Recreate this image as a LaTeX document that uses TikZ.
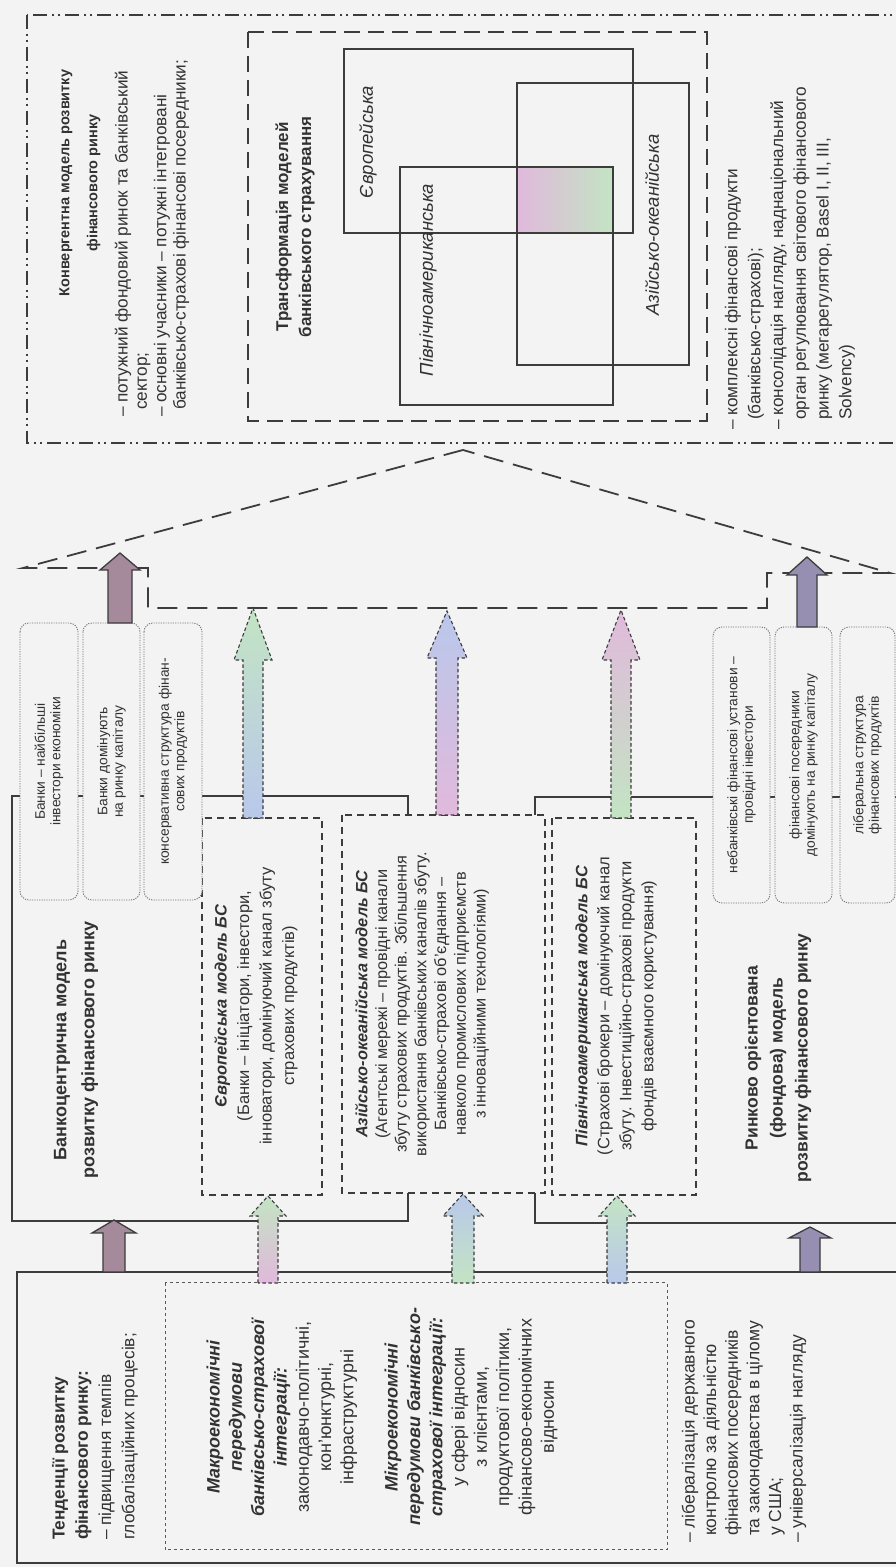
\documentclass[tikz,border=0pt]{standalone}
\usepackage{fontspec}
\setmainfont{Liberation Sans}
\usetikzlibrary{calc}

\definecolor{bgcol}{RGB}{243,243,243}
\definecolor{inkcol}{RGB}{50,50,50}
\definecolor{linecol}{RGB}{60,60,60}
\definecolor{mauve}{RGB}{165,138,155}
\definecolor{lav}{RGB}{150,143,178}
\definecolor{pgreen}{RGB}{195,228,195}
\definecolor{ppink}{RGB}{225,185,220}
\definecolor{pblue}{RGB}{185,200,235}

\newcommand{\bi}[1]{\textbf{\textit{#1}}}
% block arrow from tail #2 to tip #3: body half #4, head half #5, head length #6
\newcommand{\fatarrow}[6][]{%
  \path[#1] ($(#2)+(0,#4)$) -- ($(#3)+(-#6,#4)$) -- ($(#3)+(-#6,#5)$) -- (#3)
    -- ($(#3)+(-#6,-#5)$) -- ($(#3)+(-#6,-#4)$) -- ($(#2)+(0,-#4)$) -- cycle;}

\begin{document}
\begin{tikzpicture}[x=1pt,y=1pt,
    base/.style={inner sep=0pt, outer sep=0pt, text=inkcol},
    solidbox/.style={base, draw=linecol, line width=1.5pt},
    thinbox/.style={base, draw=linecol, line width=1.1pt},
    dashbox/.style={base, draw=linecol, line width=1.3pt, dash pattern=on 7pt off 5pt, fill=bgcol},
    longdash/.style={base, draw=linecol, line width=1.6pt, dash pattern=on 16pt off 8pt},
    dashdotbox/.style={base, draw=linecol, line width=1.6pt,
      dash pattern=on 14pt off 5pt on 2pt off 4pt on 2pt off 5pt},
    dotbox/.style={base, draw=linecol!85, line width=1pt, dash pattern=on 3pt off 3pt},
    roundbox/.style={base, draw=linecol!70, line width=0.9pt, dash pattern=on 1.2pt off 1.2pt,
      rounded corners=9pt, fill=bgcol, align=center, font=\fontsize{13.8}{15.5}\selectfont},
    body/.style={base, align=left, font=\fontsize{17.3}{20}\selectfont},
    mid/.style={base, align=center, font=\fontsize{16.5}{20}\selectfont},
    ttl/.style={base, align=center, font=\fontsize{16}{25}\selectfont\bfseries},
    lbl/.style={base, font=\fontsize{18.5}{20}\selectfont\itshape},
    solidarr/.style={draw=linecol, line width=1.3pt, fill=#1},
    dasharr/.style={draw=linecol, line width=1.1pt, dash pattern=on 3.5pt off 2.5pt},
    roof/.style={draw=linecol, line width=1.8pt, dash pattern=on 20pt off 10pt}]
\begin{scope}[rotate=90, transform shape]
\useasboundingbox (0,-896) rectangle (1567,0);
\fill[bgcol] (0,-896) rectangle (1567,0);

% tendencies and preconditions
\node[solidbox, anchor=south west, minimum width=291pt, minimum height=888pt] (tend) at (4,-905) {};
\node[dotbox, anchor=south west, minimum width=267pt, minimum height=502pt] (pre) at (17,-667) {};
\node[body, anchor=west, font=\fontsize{17.3}{23.3}\selectfont] (tendT) at (27,-95)
  {\textbf{Тенденції розвитку}\\\textbf{фінансового ринку:}\\– підвищення темпів\\глобалізаційних процесів;};
\node[mid, font=\fontsize{18}{22.3}\selectfont] (preT) at (150,-382)
  {\bi{Макроекономічні}\\\bi{передумови}\\\bi{банківсько-страхової}\\\bi{інтеграції:}\\
   законодавчо-політичні,\\кон’юнктурні,\\інфраструктурні\\[22pt]
   \bi{Мікроекономічні}\\\bi{передумови банківсько-}\\\bi{страхової інтеграції:}\\
   у сфері відносин\\з клієнтами,\\продуктової політики,\\фінансово-економічних\\відносин};
\node[body, anchor=west, font=\fontsize{17.5}{21.6}\selectfont] (tendR) at (24,-744)
  {– лібералізація державного\\\hspace*{7pt}контролю за діяльністю\\\hspace*{7pt}фінансових посередників\\
   \hspace*{7pt}та законодавства в цілому\\\hspace*{7pt}у США;\\– універсалізація нагляду};

% models of the financial market
\node[solidbox, anchor=south west, minimum width=425pt, minimum height=396pt] (bank) at (346,-408) {};
\node[solidbox, anchor=south west, minimum width=426pt, minimum height=370pt] (market) at (344,-905) {};
\node[ttl, font=\fontsize{18}{28}\selectfont\bfseries] (bankT) at (517,-76)
  {Банкоцентрична модель\\розвитку фінансового ринку};
\node[ttl, font=\fontsize{17.5}{25}\selectfont\bfseries] (marketT) at (509,-778)
  {Ринково орієнтована\\(фондова) модель\\розвитку фінансового ринку};

\node[dashbox, anchor=south west, minimum width=377pt, minimum height=120pt] (euro) at (372,-322) {};
\node[dashbox, anchor=south west, minimum width=378pt, minimum height=203pt] (asia) at (374,-545) {};
\node[dashbox, anchor=south west, minimum width=377pt, minimum height=144pt] (namer) at (372,-696) {};
\node[mid, font=\fontsize{16.5}{22.5}\selectfont] (euroT) at (561,-256)
  {\bi{Європейська модель БС}\\(Банки – ініціатори, інвестори,\\інноватори, домінуючий канал збуту\\страхових продуктів)};
\node[mid, font=\fontsize{16.3}{19.7}\selectfont] (asiaT) at (563,-422)
  {\bi{Азійсько-океанійська модель БС}\\(Агентські мережі – провідні канали\\збуту страхових продуктів. Збільшення\\
   використання банківських каналів збуту.\\Банківсько-страхові об’єднання –\\навколо промислових підприємств\\з інноваційними технологіями)};
\node[mid, font=\fontsize{16.5}{22}\selectfont] (namerT) at (561,-616)
  {\bi{Північноамериканська модель БС}\\(Страхові брокери – домінуючий канал\\збуту. Інвестиційно-страхові продукти\\фондів взаємного користування)};

% features of the two market models
\node[roundbox, anchor=south west, minimum width=277pt, minimum height=58pt] (lb1) at (667,-78) {Банки – найбільші\\інвестори економіки};
\node[roundbox, anchor=south west, minimum width=277pt, minimum height=57pt] (lb2) at (667,-140) {Банки домінують\\на ринку капіталу};
\node[roundbox, anchor=south west, minimum width=277pt, minimum height=58pt] (lb3) at (667,-202) {консервативна структура фінан-\\сових продуктів};
\node[roundbox, anchor=south west, minimum width=276pt, minimum height=57pt] (rb1) at (664,-770) {небанківські фінансові установи –\\провідні інвестори};
\node[roundbox, anchor=south west, minimum width=276pt, minimum height=57pt] (rb2) at (664,-832) {фінансові посередники\\домінують на ринку капіталу};
\node[roundbox, anchor=south west, minimum width=276pt, minimum height=55pt] (rb3) at (664,-895) {ліберальна структура\\фінансових продуктів};

% convergence
\draw[roof] (1117,-463) -- (999,-23) -- (999,-148) -- (959,-148) -- (959,-767)
  -- (994,-767) -- (994,-890) -- cycle;
\node[dashdotbox, anchor=south west, minimum width=428pt, minimum height=878pt] (conv) at (1124,-905) {};
\node[longdash, anchor=south west, minimum width=389pt, minimum height=459pt] (trans) at (1146,-707) {};
\node[ttl, font=\fontsize{14.5}{28}\selectfont\bfseries] (convT) at (1384,-80)
  {Конвергентна модель розвитку\\фінансового ринку};
\node[body, anchor=west, font=\fontsize{17.2}{19.3}\selectfont] (convB) at (1150,-152)
  {– потужний фондовий ринок та банківський\\\hspace*{7pt}сектор;\\– основні учасники – потужні інтегровані\\
   \hspace*{7pt}банківсько-страхові фінансові посередники;};
\node[body, anchor=west, font=\fontsize{17.2}{22.8}\selectfont] (convR) at (1137,-790)
  {– комплексні фінансові продукти\\\hspace*{10pt}(банківсько-страхові);\\– консолідація нагляду, наднаціональний\\
   \hspace*{10pt}орган регулювання світового фінансового\\\hspace*{10pt}ринку (мегарегулятор, Basel I, II, III,\\\hspace*{10pt}Solvency)};
\node[ttl, font=\fontsize{17}{23}\selectfont\bfseries] (transT) at (1340,-295)
  {Трансформація моделей\\банківського страхування};

\node[base, anchor=south west, minimum width=66pt, minimum height=96pt,
  left color=ppink, middle color=black!25, right color=pgreen] (ovl) at (1334,-613) {};
\node[thinbox, anchor=south west, minimum width=184pt, minimum height=289pt] (sqE) at (1334,-633) {};
\node[thinbox, anchor=south west, minimum width=238pt, minimum height=213pt] (sqN) at (1162,-613) {};
\node[thinbox, anchor=south west, minimum width=282pt, minimum height=172pt] (sqA) at (1202,-689) {};
\draw[linecol, line width=1.1pt, dash pattern=on 6pt off 3pt on 1.5pt off 3pt]
  (ovl.south west) rectangle (ovl.north east);
\node[lbl] (sqEt) at (1425,-368) {Європейська};
\node[lbl] (sqNt) at (1287,-428) {Північноамериканська};
\node[lbl] (sqAt) at (1342,-652) {Азійсько-океанійська};

% arrows (shading colours are given in page terms: top = tip, bottom = tail)
\coordinate (a1s) at (295,-114);  \coordinate (a1e) at (347,-114);
\coordinate (a2s) at (284,-268);  \coordinate (a2e) at (371,-268);
\coordinate (a3s) at (284,-463);  \coordinate (a3e) at (373,-463);
\coordinate (a4s) at (284,-617);  \coordinate (a4e) at (371,-617);
\coordinate (a5s) at (295,-810);  \coordinate (a5e) at (340,-810);
\coordinate (b1s) at (944,-120);  \coordinate (b1e) at (1014,-120);
\coordinate (b2s) at (749,-253);  \coordinate (b2e) at (959,-253);
\coordinate (b3s) at (752,-447);  \coordinate (b3e) at (956,-447);
\coordinate (b4s) at (749,-621);  \coordinate (b4e) at (957,-621);
\coordinate (b5s) at (940,-807);  \coordinate (b5e) at (1010,-807);

\fatarrow[solidarr=mauve]{a1s}{a1e}{11}{22}{13}
\fatarrow[dasharr, top color=pgreen, middle color=pblue, bottom color=ppink]{a2s}{a2e}{10}{18}{20}
\fatarrow[dasharr, top color=pblue, middle color=ppink, bottom color=pgreen]{a3s}{a3e}{11}{20}{22}
\fatarrow[dasharr, top color=pgreen, middle color=ppink, bottom color=pblue]{a4s}{a4e}{10}{18}{20}
\fatarrow[solidarr=lav]{a5s}{a5e}{10}{21}{11}
\fatarrow[solidarr=mauve]{b1s}{b1e}{12}{20}{17}
\fatarrow[dasharr, top color=pgreen, middle color=ppink, bottom color=pblue]{b2s}{b2e}{10}{19}{52}
\fatarrow[dasharr, top color=pblue, middle color=pgreen, bottom color=ppink]{b3s}{b3e}{11}{20}{47}
\fatarrow[dasharr, top color=ppink, middle color=pblue, bottom color=pgreen]{b4s}{b4e}{10}{19}{50}
\fatarrow[solidarr=lav]{b5s}{b5e}{10}{20}{18}
\end{scope}
\end{tikzpicture}
\end{document}
